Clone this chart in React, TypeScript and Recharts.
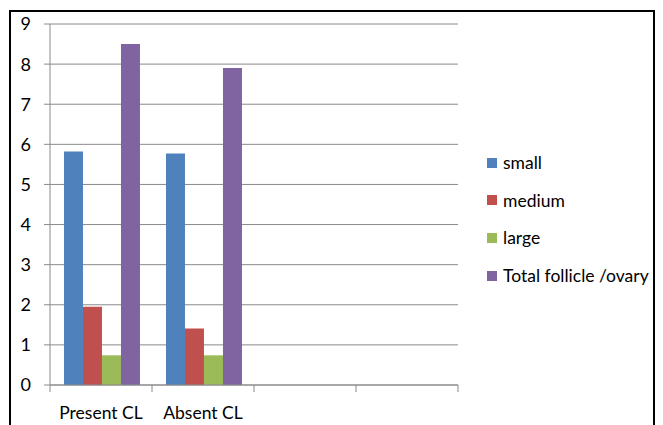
import { BarChart, Bar, XAxis, YAxis, CartesianGrid, Legend } from "recharts";

const groups = ["Present CL", "Absent CL", "", ""];
const small = [5.82, 5.77];
const medium = [1.95, 1.41];
const large = [0.74, 0.74];
const total = [8.5, 7.9];
const yTicks = [0, 1, 2, 3, 4, 5, 6, 7, 8, 9];

const series = [
  { key: "small", label: "small", color: "#4F81BD", values: small },
  { key: "medium", label: "medium", color: "#C0504D", values: medium },
  { key: "large", label: "large", color: "#9BBB59", values: large },
  { key: "total", label: "Total follicle /ovary", color: "#8064A2", values: total },
];

const rows = groups.map((name, i) => {
  const row: Record<string, string | number | undefined> = { name };
  series.forEach((s) => {
    row[s.key] = s.values[i];
  });
  return row;
});

const FONT = "Lato, 'Liberation Sans', sans-serif";
const GRID = "#8a8a8a";
const LEGEND_W = 170;
const X_TICK = 7;
const X_GAP = 15;

// category ticks sit on the band edges, label in the middle
const GroupTick = (props: any) => {
  const { x, y, payload, index } = props;
  const half = payload.offset ?? 0;
  const top = y - X_TICK - X_GAP;
  return (
    <g>
      <line x1={x - half} x2={x - half} y1={top} y2={top + X_TICK} stroke={GRID} />
      {index === groups.length - 1 && (
        <line x1={x + half} x2={x + half} y1={top} y2={top + X_TICK} stroke={GRID} />
      )}
      <text x={x} y={y} dy="0.71em" textAnchor="middle" fill="#000" fontSize={17.5} fontFamily={FONT}>
        {payload.value}
      </text>
    </g>
  );
};

const LegendBox = () => (
  <div style={{ fontFamily: FONT, fontSize: 17.5, color: "#000" }}>
    {series.map((s) => (
      <div key={s.key} style={{ height: 37.6, display: "flex", alignItems: "center" }}>
        <span style={{ width: 10, height: 10, background: s.color, marginRight: 6, flexShrink: 0 }} />
        <span style={{ whiteSpace: "nowrap" }}>{s.label}</span>
      </div>
    ))}
  </div>
);

export default function App() {
  return (
    <div style={{ position: "absolute", left: 0, top: 0, width: 663, height: 425, background: "#fff", overflow: "hidden" }}>
      <div
        style={{
          position: "absolute",
          left: 9,
          top: 10,
          width: 642,
          height: 440,
          border: "2px solid #000",
        }}
      />
      <BarChart
        width={663}
        height={425}
        data={rows}
        margin={{ top: 24, right: 205 - LEGEND_W, bottom: 0, left: 0 }}
        barCategoryGap="13.7%"
        barGap={0}
      >
        <CartesianGrid vertical={false} stroke={GRID} />
        <XAxis
          dataKey="name"
          height={40}
          stroke={GRID}
          tickLine={false}
          tick={<GroupTick />}
          tickMargin={X_GAP}
          tickSize={X_TICK}
          interval={0}
        />
        <YAxis
          width={50}
          domain={[0, 9]}
          ticks={yTicks}
          stroke={GRID}
          tickSize={6}
          tickMargin={13}
          tick={{ fill: "#000", fontSize: 18, fontFamily: FONT }}
        />
        <Legend
          layout="vertical"
          align="right"
          verticalAlign="top"
          content={<LegendBox />}
          wrapperStyle={{ left: 487, top: 144, width: LEGEND_W }}
        />
        {series.map((s) => (
          <Bar key={s.key} dataKey={s.key} name={s.label} fill={s.color} isAnimationActive={false} />
        ))}
      </BarChart>
    </div>
  );
}
